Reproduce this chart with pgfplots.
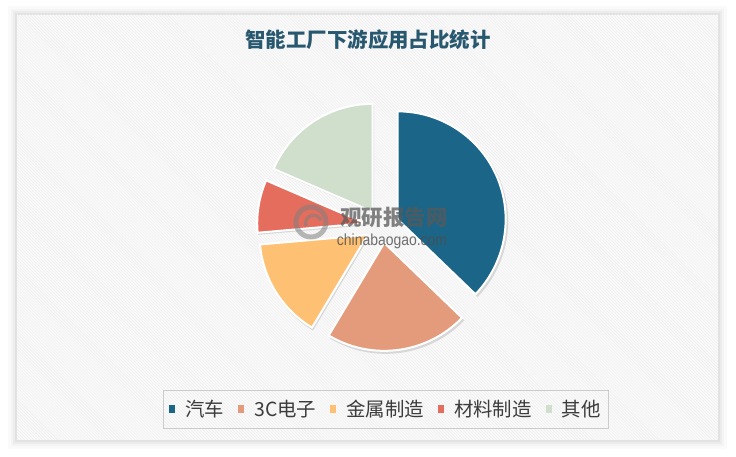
\documentclass[border=0pt]{standalone}
\usepackage{fontspec}
\usepackage{pgfplots}
\pgfplotsset{compat=1.18}
\usepackage{pgfplotstable}
\usetikzlibrary{patterns}
\setmainfont{Noto Sans CJK SC}
\newfontfamily\latinfont{Liberation Sans}
\definecolor{slice0}{RGB}{27,101,136}
\definecolor{slice1}{RGB}{228,155,123}
\definecolor{slice2}{RGB}{254,193,115}
\definecolor{slice3}{RGB}{229,109,93}
\definecolor{slice4}{RGB}{208,223,204}
\definecolor{titlecol}{RGB}{40,88,112}
\definecolor{legtext}{RGB}{60,60,60}
\definecolor{panelbg}{RGB}{250,250,250}

\pgfplotstableread{
idx value
0 37.2
1 21.4
2 15.0
3 7.9
4 18.5
}\piedata

\begin{document}
\begin{tikzpicture}
\def\slicecmds{}
\def\pcum{0}
\pgfplotsforeachungrouped \pidx in {0,...,4}{%
  \pgfplotstablegetelem{\pidx}{value}\of\piedata
  \let\pval\pgfplotsretval
  \pgfmathsetmacro\pa{90-3.6*\pcum}%
  \pgfmathsetmacro\pb{90-3.6*(\pcum+\pval)}%
  \pgfmathsetmacro\pm{(\pa+\pb)/2}%
  \pgfmathsetmacro\pcx{382+17*cos(\pm)}%
  \pgfmathsetmacro\pcy{231+17*sin(\pm)}%
  \pgfmathsetmacro\psx{\pcx+1.5}%
  \pgfmathsetmacro\psy{\pcy-2}%
  \xdef\slicecmds{\unexpanded\expandafter{\slicecmds}%
    \noexpand\fill[black,opacity=0.12] (axis cs:\psx,\psy) -- ++(\pa:109bp) arc[start angle=\pa,end angle=\pb,radius=109bp] -- cycle;
    \noexpand\filldraw[fill=slice\pidx,draw=white,line width=2bp,line join=round] (axis cs:\pcx,\pcy) -- ++(\pa:108bp) arc[start angle=\pa,end angle=\pb,radius=108bp] -- cycle;}%
  \pgfmathsetmacro\pcum{\pcum+\pval}%
}
\begin{axis}[
  width=736bp, height=457bp, scale only axis,
  xmin=0, xmax=736, ymin=0, ymax=457,
  hide axis, clip=false,
  legend columns=5,
  legend cell align=left,
  legend style={at={(0.5245,0.105)}, anchor=center, draw=gray!40, fill=none,
    font=\fontsize{19.5}{22}\selectfont\color{legtext},
    /tikz/every even column/.append style={column sep=12bp},
    inner xsep=6bp, inner ysep=8bp},
]
% background and panel
\fill[white] (axis cs:0,0) rectangle (axis cs:736,457);
\fill[black,opacity=0.02] (axis cs:8,8) rectangle (axis cs:727,451);
\fill[black,opacity=0.025] (axis cs:11,11) rectangle (axis cs:724,448);
\fill[black,opacity=0.03] (axis cs:13,13) rectangle (axis cs:722,446);
\fill[black,opacity=0.04] (axis cs:15,15) rectangle (axis cs:720,444);
\fill[panelbg] (axis cs:17,17) rectangle (axis cs:718,442);
\fill[pattern=north west lines, pattern color=gray!14] (axis cs:17,17) rectangle (axis cs:718,442);
% title
\node[font=\fontsize{20.5}{24}\selectfont\bfseries, text=titlecol] at (axis cs:368,417) {智能工厂下游应用占比统计};
% pie slices from the table
\slicecmds
% watermark
\draw[gray, opacity=0.55, line width=5bp] (axis cs:311,235) circle[radius=15bp];
\draw[gray, opacity=0.55, line width=3.5bp] (axis cs:306,231) arc[start angle=200,end angle=20,radius=8bp];
\node[font=\fontsize{21.5}{24}\selectfont\bfseries, text=black!65, opacity=0.75] at (axis cs:394,240) {观研报告网};
\node[font=\latinfont\fontsize{14}{16}\selectfont, text=black!70, opacity=0.8, yscale=1.15] at (axis cs:392,216) {chinabaogao.com};
% legend
\addlegendimage{legend image code/.code={\fill[slice0,draw=none] (0bp,-4bp) rectangle (6bp,4bp); \path[draw=none,fill=none] (0bp,0bp) rectangle (14bp,0.1bp);}}
\addlegendentry{汽车}
\addlegendimage{legend image code/.code={\fill[slice1,draw=none] (0bp,-4bp) rectangle (6bp,4bp); \path[draw=none,fill=none] (0bp,0bp) rectangle (14bp,0.1bp);}}
\addlegendentry{3C电子}
\addlegendimage{legend image code/.code={\fill[slice2,draw=none] (0bp,-4bp) rectangle (6bp,4bp); \path[draw=none,fill=none] (0bp,0bp) rectangle (14bp,0.1bp);}}
\addlegendentry{金属制造}
\addlegendimage{legend image code/.code={\fill[slice3,draw=none] (0bp,-4bp) rectangle (6bp,4bp); \path[draw=none,fill=none] (0bp,0bp) rectangle (14bp,0.1bp);}}
\addlegendentry{材料制造}
\addlegendimage{legend image code/.code={\fill[slice4,draw=none] (0bp,-4bp) rectangle (6bp,4bp); \path[draw=none,fill=none] (0bp,0bp) rectangle (14bp,0.1bp);}}
\addlegendentry{其他}
\end{axis}
\end{tikzpicture}
\end{document}
